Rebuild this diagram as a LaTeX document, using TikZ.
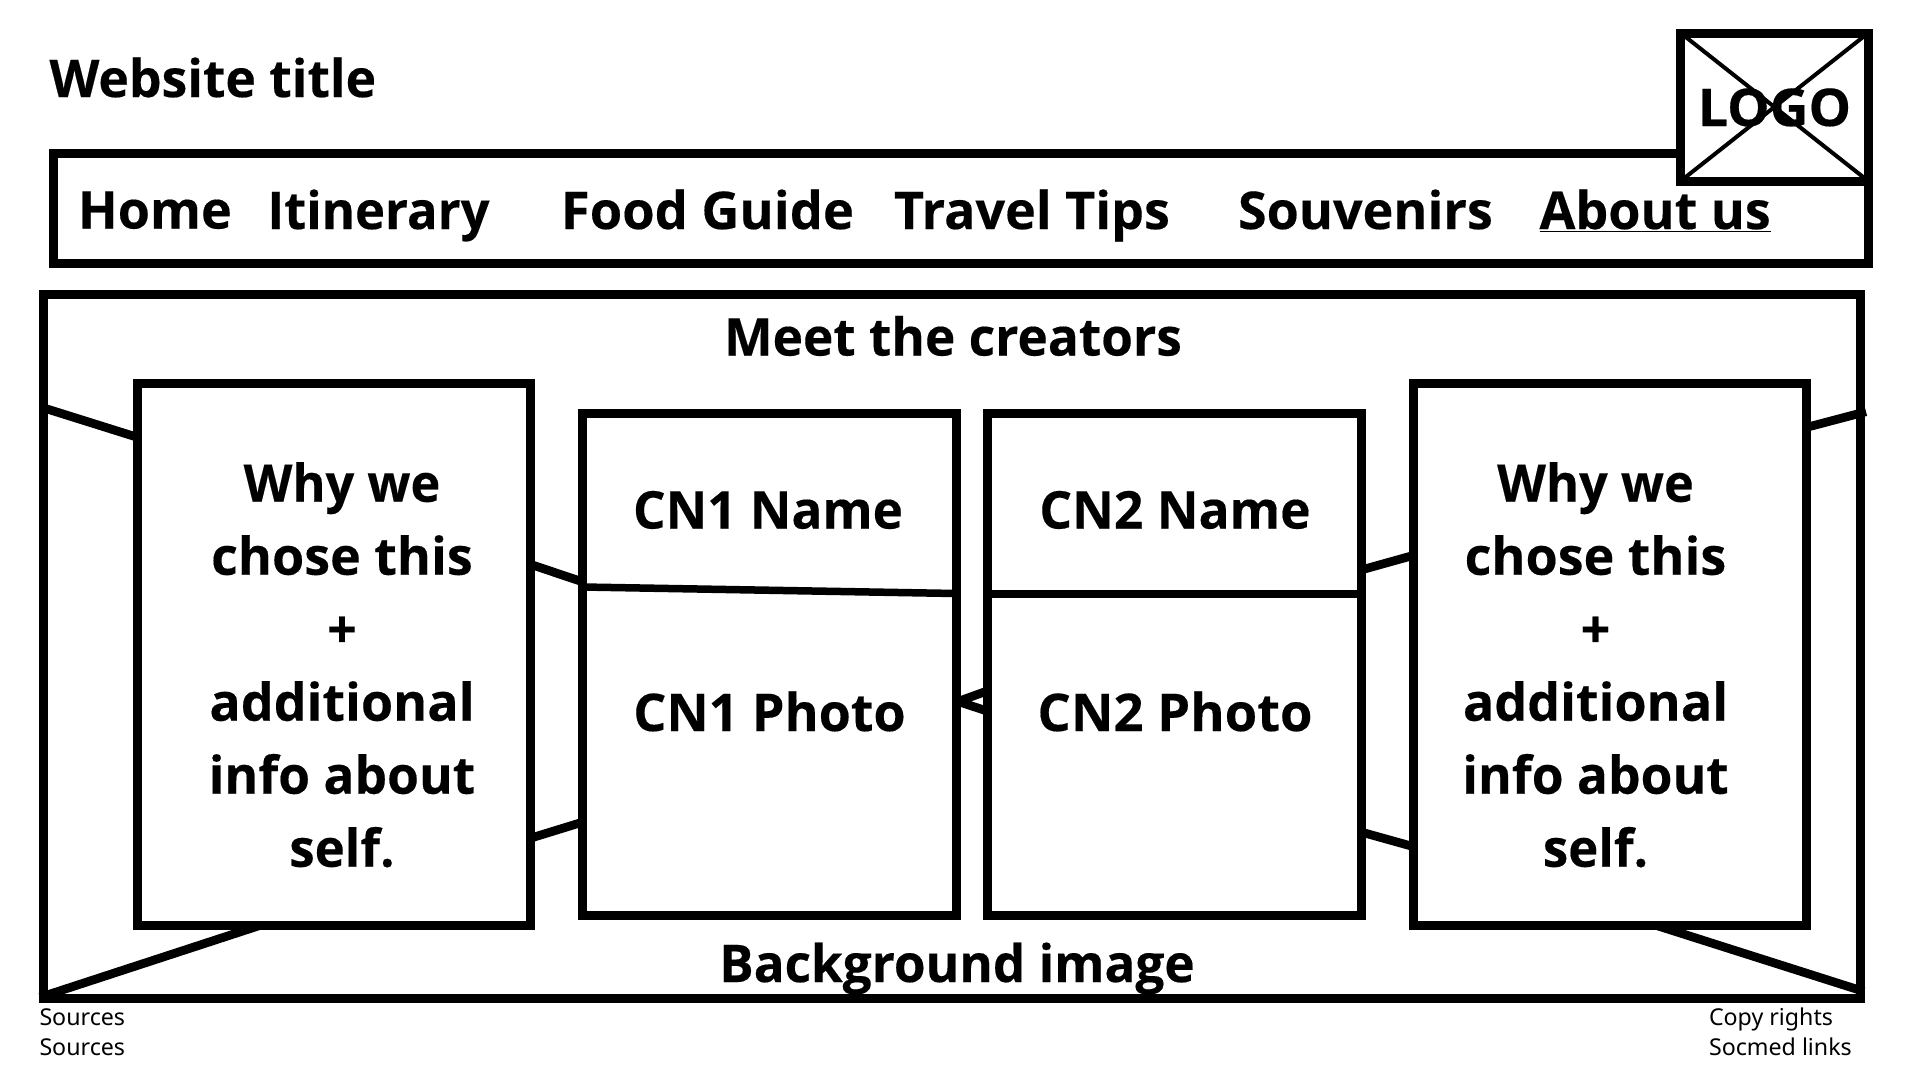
\documentclass[tikz,border=0pt]{standalone}
\usepackage{fontspec}
\setmainfont{Open Sans}[BoldFeatures={FakeBold=0.3}]
\newfontfamily\smallfont{Noto Sans}
\newcommand{\narrowed}[2]{\scalebox{#1}[1]{#2}}
\begin{document}
\begin{tikzpicture}[x=1pt,y=-1pt,
  wire/.style={draw=black,fill=white,line width=9pt,rectangle,inner sep=0pt,outer sep=0pt,minimum width=#1},
  wire/.default=10pt,
  xline/.style={line width=8.7pt,draw=black},
  big/.style={font=\bfseries\fontsize{52}{73}\selectfont,inner sep=0pt,outer sep=0pt,text=black},
  small/.style={font=\smallfont\fontsize{23.2}{25}\selectfont,inner sep=0pt,outer sep=0pt,anchor=base west,text=black}]
\useasboundingbox (0,0) rectangle (1920,1080);
\fill[white] (0,0) rectangle (1920,1080);
% nav and main frames
\node[wire=1814.5pt,minimum height=110pt,anchor=center] (nav) at (960.8,208) {};
\node[wire=1816.5pt,minimum height=704pt,anchor=center] (main) at (952.2,646) {};
% background cross lines
\coordinate (bl1) at (40,997.3); \coordinate (bl2) at (260,925.4);
\coordinate (br1) at (1864,991.5); \coordinate (br2) at (1655,925);
\coordinate (tl1) at (44,408); \coordinate (tl2) at (138,437.5);
\coordinate (tr1) at (1866,411.7); \coordinate (tr2) at (1806,427.5);
\coordinate (a1) at (531,564.5); \coordinate (a2) at (583,582);
\coordinate (b1) at (531,838); \coordinate (b2) at (583,822);
\coordinate (c1) at (1361,570); \coordinate (c2) at (1413,555.5);
\coordinate (d1) at (1361,832); \coordinate (d2) at (1413,846.5);
\coordinate (e0) at (958,701.5); \coordinate (e1) at (987,691); \coordinate (e2) at (987,711);
\draw[xline] (bl1)--(bl2);
\draw[xline] (br1)--(br2);
\draw[xline] (tl1)--(tl2);
\draw[xline] (tr1)--(tr2);
\draw[xline] (a1)--(a2);
\draw[xline] (b1)--(b2);
\draw[xline] (c1)--(c2);
\draw[xline] (d1)--(d2);
\draw[xline] (e1)--(e0)--(e2);
% cards
\node[wire=393pt,minimum height=542pt] (lcard) at (334.3,654) {};
\node[wire=393pt,minimum height=542pt] (rcard) at (1609.5,654) {};
\node[wire=373.5pt,minimum height=502pt] (cn1) at (769.3,664) {};
\node[wire=374pt,minimum height=502pt] (cn2) at (1174,664) {};
\coordinate (n1a) at (583,587); \coordinate (n1b) at (956,593.5);
\coordinate (n2a) at (987,594); \coordinate (n2b) at (1361,594);
\draw[line width=7.5pt] (n1a)--(n1b);
\draw[line width=7.5pt] (n2a)--(n2b);
% logo
\node[wire=187.5pt,minimum height=148pt] (logo) at (1774.4,107) {};
\draw[line width=4pt,shorten <=-2pt,shorten >=-3pt] (logo.north west)--(logo.south east);
\draw[line width=4pt,shorten <=-2pt,shorten >=-3pt] (logo.north east)--(logo.south west);
% texts
\node[big,anchor=base] (tlogo) at (1774.5,126) {\narrowed{1.03}{LOGO}};
\node[big,anchor=base west] (title) at (49.5,97) {\narrowed{.993}{Website title}};
\node[big,anchor=base west] (home) at (78,228.5) {Home};
\node[big,anchor=base west] (itin) at (267.5,229) {\narrowed{.975}{Itinerary}};
\node[big,anchor=base west] (food) at (561,229) {\narrowed{1.008}{Food Guide}};
\node[big,anchor=base west] (tips) at (894,229) {Travel Tips};
\node[big,anchor=base west] (souv) at (1238,229) {Souvenirs};
\node[big,anchor=base west] (about) at (1539.5,229) {\underline{About us}};
\node[big,anchor=base] (meet) at (953,355.5) {\narrowed{.988}{Meet the creators}};
\node[big,anchor=base] (n1) at (768,528.5) {\narrowed{.985}{CN1 Name}};
\node[big,anchor=base] (p1) at (769.5,731) {CN1 Photo};
\node[big,anchor=base] (n2) at (1175,528.5) {\narrowed{.99}{CN2 Name}};
\node[big,anchor=base] (p2) at (1175,731) {\narrowed{1.01}{CN2 Photo}};
\node[big,anchor=base] (bg) at (957,982) {\narrowed{.985}{Background image}};
\node[big,align=center,anchor=north] (why1) at (342,462.2) {\narrowed{.97}{Why we}\\chose this\\+\\additional\\\narrowed{.99}{info about}\\\narrowed{.98}{self.}};
\node[big,align=center,anchor=north] (why2) at (1595.5,462.2) {\narrowed{.97}{Why we}\\chose this\\+\\additional\\\narrowed{.99}{info about}\\\narrowed{.98}{self.}};
\node[small] (s1) at (39.5,1025) {Sources};
\node[small] (s2) at (39.5,1055.5) {Sources};
\node[small] (c1t) at (1709,1025) {Copy rights};
\node[small] (c2t) at (1709,1055.5) {Socmed links};
\end{tikzpicture}
\end{document}
